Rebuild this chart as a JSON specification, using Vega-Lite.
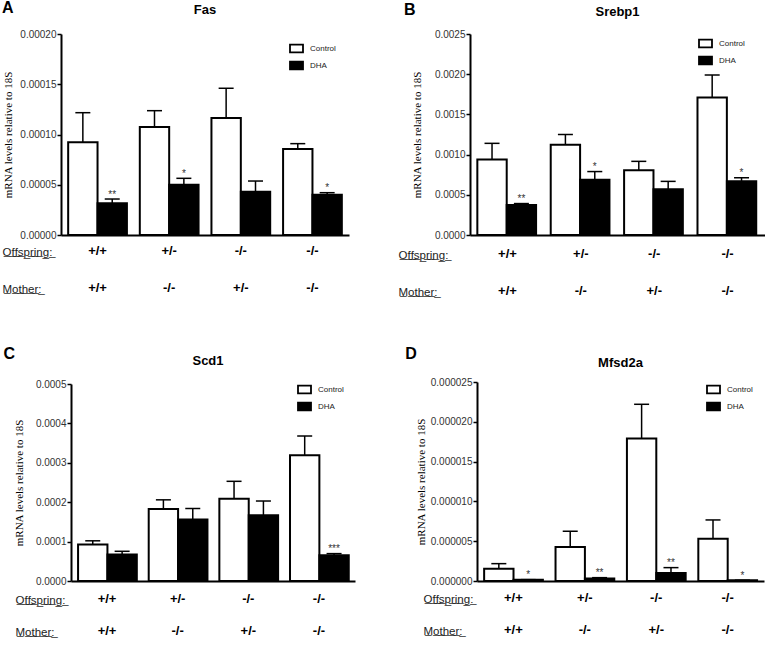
{
  "$schema": "https://vega.github.io/schema/vega-lite/v6.json",
  "padding": {"left": 2, "top": 0, "right": 0, "bottom": 0},
  "background": "white",
  "datasets": {
    "fas": [
      {"group": "+/+|+/+", "treatment": "Control", "value": 0.0000922, "hi": 0.0001217, "sig": ""},
      {"group": "+/+|+/+", "treatment": "DHA", "value": 0.0000315, "hi": 0.0000358, "sig": "**"},
      {"group": "+/-|-/-", "treatment": "Control", "value": 0.0001075, "hi": 0.0001237, "sig": ""},
      {"group": "+/-|-/-", "treatment": "DHA", "value": 0.00005, "hi": 0.0000564, "sig": "*"},
      {"group": "-/-|+/-", "treatment": "Control", "value": 0.0001164, "hi": 0.000146, "sig": ""},
      {"group": "-/-|+/-", "treatment": "DHA", "value": 0.0000431, "hi": 0.0000537, "sig": ""},
      {"group": "-/-|-/-", "treatment": "Control", "value": 0.0000856, "hi": 0.0000909, "sig": ""},
      {"group": "-/-|-/-", "treatment": "DHA", "value": 0.0000401, "hi": 0.0000421, "sig": "*"}
    ],
    "srebp1": [
      {"group": "+/+|+/+", "treatment": "Control", "value": 0.00094, "hi": 0.00114, "sig": ""},
      {"group": "+/+|+/+", "treatment": "DHA", "value": 0.000374, "hi": 0.000391, "sig": "**"},
      {"group": "+/-|-/-", "treatment": "Control", "value": 0.001124, "hi": 0.00125, "sig": ""},
      {"group": "+/-|-/-", "treatment": "DHA", "value": 0.000688, "hi": 0.000789, "sig": "*"},
      {"group": "-/-|+/-", "treatment": "Control", "value": 0.000806, "hi": 0.000916, "sig": ""},
      {"group": "-/-|+/-", "treatment": "DHA", "value": 0.000569, "hi": 0.000667, "sig": ""},
      {"group": "-/-|-/-", "treatment": "Control", "value": 0.00171, "hi": 0.00199, "sig": ""},
      {"group": "-/-|-/-", "treatment": "DHA", "value": 0.000667, "hi": 0.000712, "sig": "*"}
    ],
    "scd1": [
      {"group": "+/+|+/+", "treatment": "Control", "value": 0.0000924, "hi": 0.000102, "sig": ""},
      {"group": "+/+|+/+", "treatment": "DHA", "value": 0.000067, "hi": 0.0000754, "sig": ""},
      {"group": "+/-|-/-", "treatment": "Control", "value": 0.000183, "hi": 0.000206, "sig": ""},
      {"group": "+/-|-/-", "treatment": "DHA", "value": 0.000156, "hi": 0.000184, "sig": ""},
      {"group": "-/-|+/-", "treatment": "Control", "value": 0.000209, "hi": 0.000253, "sig": ""},
      {"group": "-/-|+/-", "treatment": "DHA", "value": 0.000167, "hi": 0.000203, "sig": ""},
      {"group": "-/-|-/-", "treatment": "Control", "value": 0.000319, "hi": 0.000368, "sig": ""},
      {"group": "-/-|-/-", "treatment": "DHA", "value": 0.0000653, "hi": 0.0000695, "sig": "***"}
    ],
    "mfsd2a": [
      {"group": "+/+|+/+", "treatment": "Control", "value": 0.00000155, "hi": 0.00000218, "sig": ""},
      {"group": "+/+|+/+", "treatment": "DHA", "value": 0.00000017, "hi": 0.00000017, "sig": "*"},
      {"group": "+/-|-/-", "treatment": "Control", "value": 0.00000428, "hi": 0.00000625, "sig": ""},
      {"group": "+/-|-/-", "treatment": "DHA", "value": 0.0000003, "hi": 0.00000042, "sig": "**"},
      {"group": "-/-|+/-", "treatment": "Control", "value": 0.0000179, "hi": 0.0000222, "sig": ""},
      {"group": "-/-|+/-", "treatment": "DHA", "value": 0.000001, "hi": 0.00000168, "sig": "**"},
      {"group": "-/-|-/-", "treatment": "Control", "value": 0.00000532, "hi": 0.00000767, "sig": ""},
      {"group": "-/-|-/-", "treatment": "DHA", "value": 0.0000001, "hi": 0.0000001, "sig": "*"}
    ]
  },
  "concat": [
    {
      "title": {"text": "A", "anchor": "start", "fontSize": 16, "fontWeight": "bold", "offset": 0, "dy": 12, "dx": 0},
      "vconcat": [
        {
          "width": 288, "height": 201,
          "title": {"text": "Fas", "fontSize": 13, "fontWeight": "bold", "offset": 12},
          "data": {"name": "fas"},
          "encoding": {
            "x": {"field": "group", "type": "nominal", "sort": null, "scale": {"paddingInner": 0.18, "paddingOuter": 0.1},
              "axis": {"title": ["O\u0332f\u0332f\u0332s\u0332p\u0332r\u0332i\u0332n\u0332g\u0332:\u0332", "M\u0332o\u0332t\u0332h\u0332e\u0332r\u0332:\u0332"], "titleX": -59, "titleY": 11, "titleLineHeight": 37, "labelLineHeight": 37, "labelPadding": 9}},
            "xOffset": {"field": "treatment", "type": "nominal", "sort": null, "scale": {"paddingInner": 0, "paddingOuter": 0}}
          },
          "layer": [
            {"mark": {"type": "rule", "strokeWidth": 1.5, "color": "black"},
              "encoding": {"y": {"field": "value", "type": "quantitative", "scale": {"domain": [0, 0.0002], "nice": false},
                "axis": {"values": [0, 0.00005, 0.0001, 0.00015, 0.0002], "tickCount": 10, "format": ".5f", "titlePadding": 6, "title": "mRNA levels relative to 18S"}},
                "y2": {"field": "hi"}}},
            {"mark": {"type": "tick", "thickness": 1.5, "size": 15, "color": "black", "opacity": 1},
              "encoding": {"y": {"field": "hi", "type": "quantitative"}}},
            {"mark": {"type": "bar", "stroke": "black", "strokeWidth": 2},
              "encoding": {"y": {"field": "value", "type": "quantitative"},
                "fill": {"field": "treatment", "type": "nominal", "scale": {"domain": ["Control", "DHA"], "range": ["white", "black"]},
                  "legend": {"title": null, "orient": "none", "legendX": 228, "legendY": 7}}}},
            {"mark": {"type": "text", "fontSize": 10, "dy": -1.5, "baseline": "alphabetic", "fill": "#333"},
              "encoding": {"y": {"field": "hi", "type": "quantitative"}, "text": {"field": "sig"}}}
          ]
        }
      ]
    },
    {
      "title": {"text": "B", "anchor": "start", "fontSize": 16, "fontWeight": "bold", "offset": 0, "dy": 12, "dx": 6},
      "vconcat": [
        {
          "width": 295, "height": 201,
          "title": {"text": "Srebp1", "fontSize": 13, "fontWeight": "bold", "offset": 10},
          "data": {"name": "srebp1"},
          "encoding": {
            "x": {"field": "group", "type": "nominal", "sort": null, "scale": {"paddingInner": 0.18, "paddingOuter": 0.1},
              "axis": {"title": ["O\u0332f\u0332f\u0332s\u0332p\u0332r\u0332i\u0332n\u0332g\u0332:\u0332", "M\u0332o\u0332t\u0332h\u0332e\u0332r\u0332:\u0332"], "titleX": -72, "titleY": 14, "titleLineHeight": 37, "labelLineHeight": 37, "labelPadding": 12}},
            "xOffset": {"field": "treatment", "type": "nominal", "sort": null, "scale": {"paddingInner": 0, "paddingOuter": 0}}
          },
          "layer": [
            {"mark": {"type": "rule", "strokeWidth": 1.5, "color": "black"},
              "encoding": {"y": {"field": "value", "type": "quantitative", "scale": {"domain": [0, 0.0025], "nice": false},
                "axis": {"values": [0, 0.0005, 0.001, 0.0015, 0.002, 0.0025], "tickCount": 10, "format": ".4f", "titlePadding": 12, "title": "mRNA levels relative to 18S"}},
                "y2": {"field": "hi"}}},
            {"mark": {"type": "tick", "thickness": 1.5, "size": 15, "color": "black", "opacity": 1},
              "encoding": {"y": {"field": "hi", "type": "quantitative"}}},
            {"mark": {"type": "bar", "stroke": "black", "strokeWidth": 2},
              "encoding": {"y": {"field": "value", "type": "quantitative"},
                "fill": {"field": "treatment", "type": "nominal", "scale": {"domain": ["Control", "DHA"], "range": ["white", "black"]},
                  "legend": {"title": null, "orient": "none", "legendX": 228, "legendY": 2}}}},
            {"mark": {"type": "text", "fontSize": 10, "dy": -1.5, "baseline": "alphabetic", "fill": "#333"},
              "encoding": {"y": {"field": "hi", "type": "quantitative"}, "text": {"field": "sig"}}}
          ]
        }
      ]
    },
    {
      "title": {"text": "C", "anchor": "start", "fontSize": 16, "fontWeight": "bold", "offset": 5, "dy": 12, "dx": -10},
      "vconcat": [
        {
          "width": 294, "height": 197,
          "title": {"text": "Scd1", "fontSize": 13, "fontWeight": "bold", "offset": 11},
          "data": {"name": "scd1"},
          "encoding": {
            "x": {"field": "group", "type": "nominal", "sort": null, "scale": {"range": [10, 294], "paddingInner": 0.18, "paddingOuter": 0.1},
              "axis": {"title": ["O\u0332f\u0332f\u0332s\u0332p\u0332r\u0332i\u0332n\u0332g\u0332:\u0332", "M\u0332o\u0332t\u0332h\u0332e\u0332r\u0332:\u0332"], "titleX": -46, "titleY": 13, "titleLineHeight": 32, "labelLineHeight": 32, "labelPadding": 11}},
            "xOffset": {"field": "treatment", "type": "nominal", "sort": null, "scale": {"paddingInner": 0, "paddingOuter": 0}}
          },
          "layer": [
            {"mark": {"type": "rule", "strokeWidth": 1.5, "color": "black"},
              "encoding": {"y": {"field": "value", "type": "quantitative", "scale": {"domain": [0, 0.0005], "nice": false},
                "axis": {"values": [0, 0.0001, 0.0002, 0.0003, 0.0004, 0.0005], "tickCount": 10, "format": ".4f", "offset": -10, "titlePadding": 11, "title": "mRNA levels relative to 18S"}},
                "y2": {"field": "hi"}}},
            {"mark": {"type": "tick", "thickness": 1.5, "size": 15, "color": "black", "opacity": 1},
              "encoding": {"y": {"field": "hi", "type": "quantitative"}}},
            {"mark": {"type": "bar", "stroke": "black", "strokeWidth": 2},
              "encoding": {"y": {"field": "value", "type": "quantitative"},
                "fill": {"field": "treatment", "type": "nominal", "scale": {"domain": ["Control", "DHA"], "range": ["white", "black"]},
                  "legend": {"title": null, "orient": "none", "legendX": 236, "legendY": -2}}}},
            {"mark": {"type": "text", "fontSize": 10, "dy": -1.5, "baseline": "alphabetic", "fill": "#333"},
              "encoding": {"y": {"field": "hi", "type": "quantitative"}, "text": {"field": "sig"}}}
          ]
        }
      ]
    },
    {
      "title": {"text": "D", "anchor": "start", "fontSize": 16, "fontWeight": "bold", "offset": 8, "dy": 13, "dx": 7},
      "vconcat": [
        {
          "width": 287, "height": 199,
          "title": {"text": "Mfsd2a", "fontSize": 13, "fontWeight": "bold", "offset": 7},
          "data": {"name": "mfsd2a"},
          "encoding": {
            "x": {"field": "group", "type": "nominal", "sort": null, "scale": {"paddingInner": 0.18, "paddingOuter": 0.1},
              "axis": {"title": ["O\u0332f\u0332f\u0332s\u0332p\u0332r\u0332i\u0332n\u0332g\u0332:\u0332", "M\u0332o\u0332t\u0332h\u0332e\u0332r\u0332:\u0332"], "titleX": -54, "titleY": 12, "titleLineHeight": 32, "labelLineHeight": 32, "labelPadding": 10}},
            "xOffset": {"field": "treatment", "type": "nominal", "sort": null, "scale": {"paddingInner": 0, "paddingOuter": 0}}
          },
          "layer": [
            {"mark": {"type": "rule", "strokeWidth": 1.5, "color": "black"},
              "encoding": {"y": {"field": "value", "type": "quantitative", "scale": {"domain": [0, 0.000025], "nice": false},
                "axis": {"values": [0, 0.000005, 0.00001, 0.000015, 0.00002, 0.000025], "tickCount": 10, "format": ".6f", "titlePadding": 4, "titleLineHeight": 17, "title": ["", "mRNA levels relative to 18S"]}},
                "y2": {"field": "hi"}}},
            {"mark": {"type": "tick", "thickness": 1.5, "size": 15, "color": "black", "opacity": 1},
              "encoding": {"y": {"field": "hi", "type": "quantitative"}}},
            {"mark": {"type": "bar", "stroke": "black", "strokeWidth": 2},
              "encoding": {"y": {"field": "value", "type": "quantitative"},
                "fill": {"field": "treatment", "type": "nominal", "scale": {"domain": ["Control", "DHA"], "range": ["white", "black"]},
                  "legend": {"title": null, "orient": "none", "legendX": 229, "legendY": 0}}}},
            {"mark": {"type": "text", "fontSize": 10, "dy": -1.5, "baseline": "alphabetic", "fill": "#333"},
              "encoding": {"y": {"field": "hi", "type": "quantitative"}, "text": {"field": "sig"}}}
          ]
        }
      ]
    }
  ],
  "columns": 2,
  "align": "none",
  "spacing": {"row": 48, "column": 43},
  "resolve": {"scale": {"fill": "independent"}},
  "config": {
    "font": "Liberation Sans",
    "view": {"stroke": null},
    "title": {"font": "Liberation Sans", "color": "black"},
    "axis": {"grid": false, "domainColor": "black", "domainWidth": 2, "labelFont": "Liberation Sans", "labelColor": "#333", "labelFontSize": 10,
      "tickColor": "black", "tickWidth": 1.5, "tickSize": 4, "titleFont": "Liberation Serif", "titleFontWeight": "normal", "titleFontSize": 11, "titleColor": "black"},
    "axisY": {"labelPadding": 1, "labelOverlap": false},
    "axisX": {"ticks": false, "labelFontSize": 13, "labelFontWeight": "bold", "labelColor": "black", "labelAngle": 0, "labelBaseline": "top",
      "labelExpr": "split(datum.label, '|')",
      "titleFont": "Liberation Sans", "titleFontSize": 11.5, "titleFontWeight": "normal", "titleAlign": "left", "titleBaseline": "top", "titleColor": "#222", "titleAngle": 0},
    "legend": {"padding": 0, "symbolType": "M-1,-0.6H1V0.6H-1Z", "symbolSize": 169, "symbolStrokeColor": "black", "symbolStrokeWidth": 1.8,
      "labelFontSize": 8, "labelColor": "#222", "rowPadding": 2, "labelOffset": 6}
  }
}
